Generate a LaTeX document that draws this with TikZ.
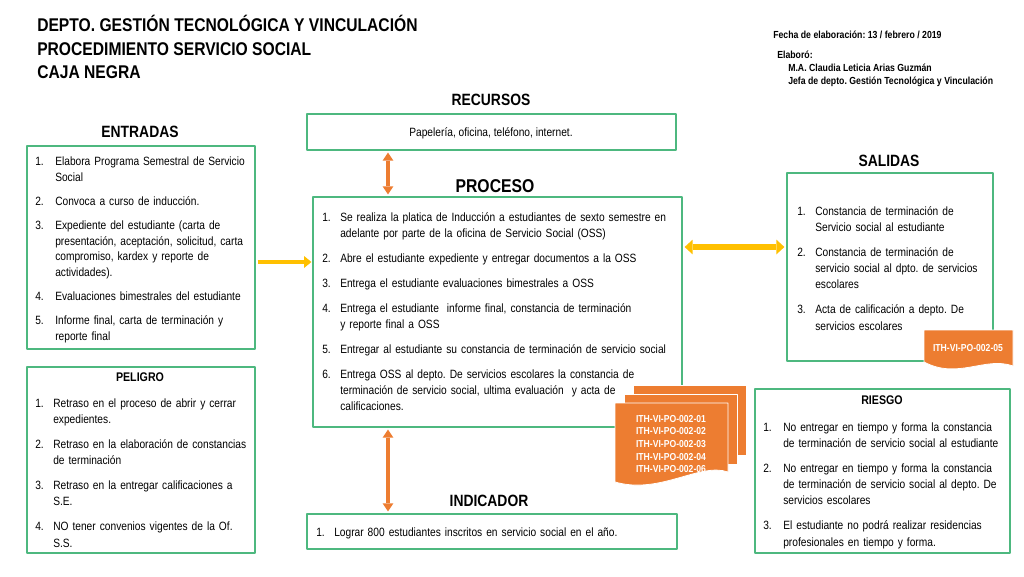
\documentclass[tikz,border=0pt]{standalone}
\usepackage{fontspec}
\setmainfont[FakeStretch=0.85]{Liberation Sans}
\usepackage{enumitem}
\usepackage{tikz}
\usetikzlibrary{arrows.meta,fit}
\frenchspacing
\definecolor{boxgreen}{HTML}{4DB87F}
\definecolor{docorange}{HTML}{ED7D31}
\definecolor{arrowgold}{HTML}{FFC000}
\setlist[enumerate]{label=\arabic*., align=left, leftmargin=13.5pt, labelwidth=13.5pt, labelsep=0pt, itemindent=0pt, topsep=0pt, partopsep=0pt, parsep=0pt, itemsep=6.5pt, before=\raggedright}
\tikzset{
  every picture/.style={line join=round, >=Stealth},
  gbox/.style={draw=boxgreen, line width=0.9pt, inner sep=0pt},
  titletext/.style={font=\fontsize{13.8}{16}\selectfont\bfseries, anchor=base west, inner sep=0pt},
  head/.style={font=\fontsize{12.25}{14}\selectfont\bfseries, anchor=base, inner sep=0pt},
  smallhead/.style={font=\fontsize{9.4}{11}\selectfont\bfseries, anchor=base, inner sep=0pt},
  bodytext/.style={font=\fontsize{9}{12.2}\selectfont, anchor=base, inner sep=0pt},
  listtext/.style={font=\fontsize{9}{12.2}\selectfont, anchor=north west, align=left, inner sep=0pt},
  small/.style={font=\fontsize{7.7}{9}\selectfont\bfseries, anchor=base west, inner sep=0pt},
  doctext/.style={font=\fontsize{7.6}{9.4}\selectfont\bfseries, text=white, align=center, inner sep=0pt},
  docfill/.style={fill=docorange, draw=white, line width=0.6pt},
  inarrow/.style={draw=arrowgold, line width=3.6pt, >={Triangle[length=5.5pt,width=9pt,line width=0pt]}, ->, shorten <=1.5pt, shorten >=0.75pt},
  outarrow/.style={draw=arrowgold, line width=4.5pt, >={Triangle[length=6pt,width=11pt,line width=0pt]}, <->, shorten <=1.5pt, shorten >=1.5pt},
  vertarrow/.style={draw=docorange, line width=3.2pt, >={Triangle[length=6pt,width=8pt,line width=0pt]}, <->, shorten <=1.5pt, shorten >=1.5pt},
}

\begin{document}
\begin{tikzpicture}[x=0.75pt,y=-0.75pt]
\useasboundingbox (0,0) rectangle (1024,576);
\node[titletext] (title1) at (37,31.7) {DEPTO. GESTIÓN TECNOLÓGICA Y VINCULACIÓN};
\node[titletext] (title2) at (37,55) {PROCEDIMIENTO SERVICIO SOCIAL};
\node[titletext] (title3) at (37,78.3) {CAJA NEGRA};
\node[small] (fecha) at (773,38.7) {Fecha de elaboración: 13 / febrero / 2019};
\node[small] (elaboro) at (777,58.7) {Elaboró:};
\node[small] (autora) at (788,71.7) {M.A. Claudia Leticia Arias Guzmán};
\node[small] (cargo) at (788,84.7) {Jefa de depto. Gestión Tecnológica y Vinculación};
\node[head] (entradashead) at (140,137) {ENTRADAS};
\node[head] (recursoshead) at (491,105) {RECURSOS};
\node[head,font=\fontsize{13.9}{16}\selectfont\bfseries] (procesohead) at (495,192.6) {PROCESO};
\node[head] (salidashead) at (889,166) {SALIDAS};
\node[head] (indicadorhead) at (489,506) {INDICADOR};
\node[gbox,fit={(27,146) (255,349)}] (entradas) {};
\node[gbox,fit={(307,114) (676,150)}] (recursos) {};
\node[gbox,fit={(313,197) (682,427)}] (proceso) {};
\node[gbox,fit={(787,173) (993,361)}] (salidas) {};
\node[gbox,fit={(307,514) (677,549)}] (indicador) {};
\node[gbox,fit={(27,367) (255,553)}] (peligro) {};
\node[gbox,fit={(755,389) (1010,553)}] (riesgo) {};
\node[bodytext] (recursostext) at (491,136) {Papelería, oficina, teléfono, internet.};
\node[listtext,font=\fontsize{9}{11.8}\selectfont,text width=163pt] (entradaslist) at (35,149.7) {\begin{enumerate}[leftmargin=15pt,labelwidth=15pt,itemsep=6.2pt]
\item Elabora Programa Semestral de Servicio\newline Social
\item Convoca a curso de inducción.
\item Expediente del estudiante (carta de\newline presentación, aceptación, solicitud, carta\newline compromiso, kardex y reporte de\newline actividades).
\item Evaluaciones bimestrales del estudiante
\item Informe final, carta de terminación y\newline reporte final
\end{enumerate}};
\node[listtext,text width=268pt] (procesolist) at (322,204.7) {\begin{enumerate}
\item Se realiza la platica de Inducción a estudiantes de sexto semestre en\newline adelante por parte de la oficina de Servicio Social (OSS)
\item Abre el estudiante expediente y entregar documentos a la OSS
\item Entrega el estudiante evaluaciones bimestrales a OSS
\item Entrega el estudiante~ informe final, constancia de terminación\newline y reporte final a OSS
\item Entregar al estudiante su constancia de terminación de servicio social
\item Entrega OSS al depto. De servicios escolares la constancia de\newline terminación de servicio social, ultima evaluación~ y acta de\newline calificaciones.
\end{enumerate}};
\node[listtext,text width=145pt] (salidaslist) at (797,198.7) {\begin{enumerate}
\item Constancia de terminación de\newline Servicio social al estudiante
\item Constancia de terminación de\newline servicio social al dpto. de servicios\newline escolares
\item Acta de calificación a depto. De\newline servicios escolares
\end{enumerate}};
\node[listtext,text width=268pt] (indicadorlist) at (316,519.7) {\begin{enumerate}
\item Lograr 800 estudiantes inscritos en servicio social en el año.
\end{enumerate}};
\node[smallhead] (peligrohead) at (140,381.5) {PELIGRO};
\node[listtext,text width=164pt] (peligrolist) at (35,390.7) {\begin{enumerate}
\item Retraso en el proceso de abrir y cerrar\newline expedientes.
\item Retraso en la elaboración de constancias\newline de terminación
\item Retraso en la entregar calificaciones a\newline S.E.
\item NO tener convenios vigentes de la Of.\newline S.S.
\end{enumerate}};
\node[smallhead] (riesgohead) at (882,404.5) {RIESGO};
\node[listtext,text width=184pt] (riesgolist) at (763,414.7) {\begin{enumerate}[leftmargin=15pt,labelwidth=15pt]
\item No entregar en tiempo y forma la constancia\newline de terminación de servicio social al estudiante
\item No entregar en tiempo y forma la constancia\newline de terminación de servicio social al depto. De\newline servicios escolares
\item El estudiante no podrá realizar residencias\newline profesionales en tiempo y forma.
\end{enumerate}};
\coordinate (inrow) at (0,262);
\coordinate (outrow) at (0,247);
\coordinate (vcol) at (388,0);
\draw[inarrow] (entradas.east |- inrow) -- (proceso.west |- inrow);
\draw[outarrow] (proceso.east |- outrow) -- (salidas.west |- outrow);
\draw[vertarrow] (vcol |- recursos.south) -- (vcol |- proceso.north);
\draw[vertarrow] (vcol |- proceso.south) -- (vcol |- indicador.north);
\filldraw[docfill] (633,385) rectangle (746,455);
\filldraw[docfill] (624,394) rectangle (737,464);
\filldraw[docfill] (615,403) -- (728,403) -- (728,472) .. controls (700,462) and (660,495) .. (615,482) -- cycle;
\node[doctext] (doccodes) at (671,444) {ITH-VI-PO-002-01\\ITH-VI-PO-002-02\\ITH-VI-PO-002-03\\ITH-VI-PO-002-04\\ITH-VI-PO-002-06};
\filldraw[docfill] (924,330) -- (1013,330) -- (1013,366) .. controls (985,356) and (958,380) .. (924,362) -- cycle;
\node[doctext] (salidacode) at (968,348) {ITH-VI-PO-002-05};
\end{tikzpicture}
\end{document}
